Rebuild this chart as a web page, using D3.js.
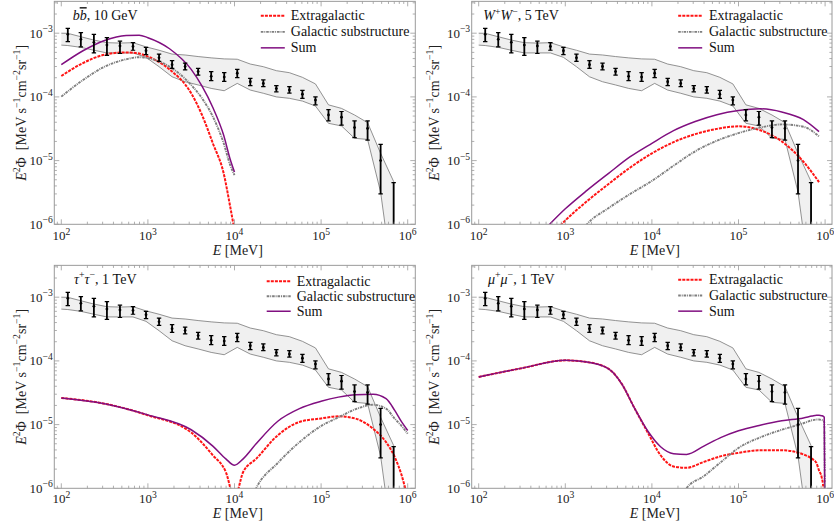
<!DOCTYPE html>
<html><head><meta charset="utf-8">
<script src="https://cdn.jsdelivr.net/npm/d3@7"></script>
<style>
body{margin:0;background:#fff;}
svg{display:block;font-family:"Liberation Serif","Times New Roman",serif;}
</style></head><body>
<svg id="c" width="834" height="525"></svg>
<script>
// ---------- data: Fermi-LAT points (MeV, MeV s^-1 cm^-2 sr^-1) ----------
const dataE  = [118.9,168.2,237.9,336.4,475.8,672.8,951.3,1345,1902,2690,3804,5380,7607,10760,15216,21517,30428,43030,60850,86050,121690,172090,243360,344150,486690,688250];
const dataY  = [9.6e-4,8.0e-4,7.2e-4,6.5e-4,6.3e-4,6.2e-4,5.3e-4,4.1e-4,3.2e-4,3.0e-4,2.5e-4,2.1e-4,2.05e-4,2.35e-4,1.73e-4,1.63e-4,1.35e-4,1.28e-4,1.1e-4,8.9e-5,5.2e-5,4.8e-5,3.3e-5,3.2e-5,1.0e-5,9e-7];
const dataHi = [1.19e-3,1.02e-3,9.6e-4,8.5e-4,7.5e-4,7.1e-4,6.0e-4,4.7e-4,3.7e-4,3.4e-4,2.8e-4,2.5e-4,2.4e-4,2.7e-4,1.95e-4,1.85e-4,1.5e-4,1.45e-4,1.27e-4,1.0e-4,6.3e-5,5.9e-5,4.2e-5,4.2e-5,1.8e-5,4.5e-6];
const dataLo = [7.4e-4,6.1e-4,4.9e-4,4.5e-4,4.8e-4,5.4e-4,4.6e-4,3.6e-4,2.8e-4,2.65e-4,2.2e-4,1.8e-4,1.75e-4,2.0e-4,1.5e-4,1.45e-4,1.2e-4,1.15e-4,9.5e-5,7.5e-5,4.2e-5,3.6e-5,2.3e-5,2.1e-5,3.0e-6,1e-8];
// foreground systematic band
const bandE  = [100,118.9,168.2,237.9,336.4,475.8,672.8,951.3,1345,1902,2690,3804,5380,7607,10760,15216,21517,30428,43030,60850,86050,121690,172090,243360,344150,486690,688250];
const bandUp = [1.0e-3,9.95e-4,8.8e-4,7.8e-4,7.1e-4,7.0e-4,7.1e-4,6.1e-4,5.4e-4,4.7e-4,4.55e-4,4.3e-4,4.1e-4,3.95e-4,3.9e-4,3.28e-4,2.98e-4,2.58e-4,2.4e-4,2.03e-4,1.6e-4,7.5e-5,6.6e-5,5.2e-5,3.94e-5,1.3e-5,4.7e-6];
const bandLo = [6.5e-4,6.4e-4,6.0e-4,5.4e-4,4.9e-4,4.9e-4,4.9e-4,4.18e-4,2.98e-4,2.07e-4,1.73e-4,1.54e-4,1.36e-4,1.25e-4,1.63e-4,1.28e-4,1.14e-4,1.0e-4,9.5e-5,8.6e-5,7.2e-5,3.85e-5,3.5e-5,2.24e-5,2.15e-5,3.2e-6,1e-7];

// ---------- model curves ----------
// b bbar, 10 GeV
const bbE     = [100,178,316,562,794,1000,1778,3162,4217,5623,7499,8913,10000];
const bbExtra = [2.13e-4,3.4e-4,4.6e-4,5.0e-4,4.8e-4,4.3e-4,2.7e-4,1.14e-4,5.2e-5,1.87e-5,6.3e-6,1.9e-6,8e-7];
const bbGal   = [1.01e-4,1.84e-4,2.98e-4,3.9e-4,4.2e-4,4.05e-4,2.98e-4,1.54e-4,9.5e-5,4.9e-5,1.87e-5,8.5e-6,5.9e-6];
const bbSum   = [3.2e-4,5.3e-4,7.7e-4,9.2e-4,9.3e-4,8.5e-4,5.7e-4,2.7e-4,1.47e-4,6.8e-5,2.5e-5,1.05e-5,6.6e-6];
// W+W-, 5 TeV
const wwE     = [562,1000,1778,3162,5623,10000,17783,31623,56234,100000,177828,316228,562341,851138];
const wwExtra = [5e-7,1.15e-6,2.3e-6,4.3e-6,7.8e-6,1.3e-5,1.95e-5,2.6e-5,3.15e-5,3.45e-5,3.0e-5,2.0e-5,9.6e-6,4.6e-6];
const wwGal   = [1e-7,3e-7,1.0e-6,1.8e-6,3.0e-6,4.8e-6,8.3e-6,1.4e-5,2.05e-5,2.7e-5,3.3e-5,3.7e-5,3.4e-5,2.4e-5];
const wwSum   = [8e-7,1.75e-6,3.4e-6,6.3e-6,1.15e-5,1.87e-5,2.95e-5,4.1e-5,5.25e-5,6.1e-5,6.5e-5,5.8e-5,4.4e-5,2.85e-5];
// tau+tau-, 1 TeV
const ttE     = [100,316,1000,3162,5623,7943,10000,12589,17783,31623,56234,100000,158489,251189,398107,562341,707946,851138,1000000];
const ttExtra = [2.62e-5,2.13e-5,1.4e-5,7.5e-6,3.3e-6,1.8e-6,7e-7,1.8e-6,2.9e-6,6.8e-6,1.1e-5,1.25e-5,1.35e-5,1.24e-5,8.6e-6,5.3e-6,3.1e-6,1.6e-6,7e-7];
const ttGal   = [1e-8,1e-8,1e-8,1e-8,1e-8,1e-8,1e-8,3e-7,1.0e-6,2.5e-6,5.3e-6,9.5e-6,1.3e-5,1.75e-5,2.05e-5,1.78e-5,1.24e-5,9.5e-6,7.2e-6];
const ttSum   = [2.62e-5,2.13e-5,1.42e-5,8.3e-6,4.6e-6,2.9e-6,2.3e-6,2.9e-6,5.0e-6,1.13e-5,1.78e-5,2.32e-5,2.7e-5,2.95e-5,3.0e-5,2.55e-5,1.67e-5,1.1e-5,8.1e-6];
// mu+mu-, 1 TeV
const mmE     = [100,316,1000,1778,3162,4467,6310,8913,12589,17783,25119,39811,63096,100000,177828,316228,562341,707946,794328,851138,912011,954993,977237,1000000];
const mmExtra = [5.6e-5,7.7e-5,1.02e-4,9.6e-5,7.5e-5,4.4e-5,1.8e-5,7.6e-6,3.3e-6,2.2e-6,2.1e-6,2.6e-6,3.2e-6,3.6e-6,3.95e-6,3.95e-6,3.4e-6,2.9e-6,2.5e-6,1.9e-6,1.5e-6,1.0e-6,5e-7,1e-7];
const mmGal   = [1e-8,1e-8,1e-8,1e-8,1e-8,1e-8,1e-8,1e-8,1e-8,3e-7,1.0e-6,1.55e-6,2.6e-6,4.3e-6,6.3e-6,8.3e-6,1.05e-5,1.17e-5,1.2e-5,1.2e-5,1.18e-5,1.15e-5,1.1e-5,1e-7];
const mmSum   = [5.6e-5,7.7e-5,1.02e-4,9.6e-5,7.5e-5,4.4e-5,1.8e-5,8.0e-6,4.5e-6,3.5e-6,3.4e-6,4.6e-6,6.3e-6,8.0e-6,9.8e-6,1.15e-5,1.27e-5,1.36e-5,1.4e-5,1.4e-5,1.38e-5,1.35e-5,1.3e-5,1e-7];

// ---------- labels ----------
const xTickVals = [1e2,1e3,1e4,1e5,1e6];
const xTickExp  = ["2","3","4","5","6"];
const yTickVals = [1e-6,1e-5,1e-4,1e-3];
const yTickExp  = ["\u22126","\u22125","\u22124","\u22123"];
const legendLabels = ["Extragalactic","Galactic substructure","Sum"];
const titleParts = [
  [{t:"b",it:1},{t:"b",it:1,over:1},{t:", 10 GeV"}],
  [{t:"W",it:1},{t:"+",sup:1},{t:"W",it:1},{t:"\u2212",sup:1},{t:", 5 TeV"}],
  [{t:"\u03c4",it:1},{t:"+",sup:1},{t:"\u03c4",it:1},{t:"\u2212",sup:1},{t:", 1 TeV"}],
  [{t:"\u03bc",it:1},{t:"+",sup:1},{t:"\u03bc",it:1},{t:"\u2212",sup:1},{t:", 1 TeV"}]
];
const yLabelParts = [{t:"E",it:1},{t:"2",sup:1},{t:"\u03a6\u00a0\u00a0[MeV s"},{t:"\u22121",sup:1},{t:"cm"},{t:"\u22122",sup:1},{t:"sr"},{t:"\u22121",sup:1},{t:"]"}];
const xLabelParts = [{t:"E",it:1},{t:" [MeV]"}];

// ---------- layout ----------
const panels = [
  {l:54.3, r:415.3, b:224.3, E:bbE, ex:bbExtra, gal:bbGal, sum:bbSum, legLine:206.5, legText:236.5, legRows:[14.3,30.5,46.5], titleX:72.7, titleY:18.8, ylabX:26, tickY:15.5, xlabY:30.5},
  {l:471.7,r:832,   b:224.3, E:wwE, ex:wwExtra, gal:wwGal, sum:wwSum, legLine:206.5, legText:237.3, legRows:[14.3,30.5,46.5], titleX:483.3, titleY:18.8, ylabX:439, tickY:15.5, xlabY:30.5},
  {l:54.3, r:415.3, b:488.3, E:ttE, ex:ttExtra, gal:ttGal, sum:ttSum, legLine:212.4, legText:242.4, legRows:[15.9,30.9,45.9], titleX:74, titleY:18.3, ylabX:26, tickY:14.8, xlabY:29.2},
  {l:471.7,r:832,   b:488.3, E:mmE, ex:mmExtra, gal:mmGal, sum:mmSum, legLine:206.5, legText:237.3, legRows:[14.5,30.2,45.8], titleX:488, titleY:18.3, ylabX:439, tickY:14.8, xlabY:29.2}
];
const decX = 86.6, decY = 63.7;

function rich(sel, parts, size, supScale){
  const sc = supScale || 0.7;
  let shift = 0;
  parts.forEach(p=>{
    const target = p.sup ? -0.4*size : 0;
    const ts = sel.append("tspan").text(p.t)
      .attr("dy", (target - shift).toFixed(2))
      .style("font-size", (p.sup ? size*sc : size) + "px");
    if (p.it) ts.style("font-style","italic");
    if (p.over) ts.style("text-decoration","overline");
    shift = target;
  });
}

const svg = d3.select("#c");
const frameCol = "#9a9a9a";
const lineStyles = [
  {stroke:"#ff1414", w:2.0, dash:"3,1.1"},
  {stroke:"#7f7f7f", w:1.9, dash:"2.6,0.9,1,0.9"},
  {stroke:"#800f80", w:1.5, dash:null}
];

panels.forEach((P, pi)=>{
  const top = P.b - 3.5*decY;
  const x = d3.scaleLog().domain([Math.pow(10, 2 - (7/decX)), Math.pow(10, 2 + (P.r - P.l - 7)/decX)]).range([P.l, P.r]);
  const y = d3.scaleLog().domain([1e-6, Math.pow(10,-2.5)]).range([P.b, top]);
  const g = svg.append("g");
  const cid = "clip"+pi;
  svg.append("clipPath").attr("id",cid).append("rect")
    .attr("x",P.l).attr("y",top).attr("width",P.r-P.l).attr("height",P.b-top);
  const plot = g.append("g").attr("clip-path","url(#"+cid+")");

  // band
  const bandPts = bandE.map((e,i)=>({e, u:bandUp[i], lo:bandLo[i]}));
  plot.append("path").datum(bandPts)
    .attr("d", d3.area().x(d=>x(d.e)).y0(d=>y(d.lo)).y1(d=>y(d.u)))
    .attr("fill","#f0f0f0").attr("stroke","none");
  [ "u","lo" ].forEach(k=>{
    plot.append("path").datum(bandPts)
      .attr("d", d3.line().x(d=>x(d.e)).y(d=>y(d[k])))
      .attr("fill","none").attr("stroke","#777").attr("stroke-width",0.8);
  });
  const lastB = bandPts[bandPts.length-1];
  plot.append("line").attr("x1",x(lastB.e)).attr("x2",x(lastB.e)).attr("y1",y(lastB.u)).attr("y2",y(lastB.lo))
    .attr("stroke","#777").attr("stroke-width",0.8);

  // curves
  const line = d3.line().curve(d3.curveMonotoneX).x(d=>x(d[0])).y(d=>y(d[1]));
  [P.ex, P.gal, P.sum].forEach((vals,si)=>{
    const s = lineStyles[si];
    const pts = P.E.map((e,i)=>[e, vals[i]]);
    const p = plot.append("path").datum(pts).attr("d", line)
      .attr("fill","none").attr("stroke", s.stroke).attr("stroke-width", s.w);
    if (s.dash) p.attr("stroke-dasharray", s.dash);
  });

  // data error bars
  const bars = plot.append("g").attr("stroke","#000");
  dataE.forEach((e,i)=>{
    const cx = x(e);
    bars.append("line").attr("x1",cx).attr("x2",cx).attr("y1",y(dataHi[i])).attr("y2",y(dataLo[i])).attr("stroke-width",1.8);
    bars.append("line").attr("x1",cx-2.2).attr("x2",cx+2.2).attr("y1",y(dataHi[i])).attr("y2",y(dataHi[i])).attr("stroke-width",1.2);
    bars.append("line").attr("x1",cx-2.2).attr("x2",cx+2.2).attr("y1",y(dataLo[i])).attr("y2",y(dataLo[i])).attr("stroke-width",1.2);
    bars.append("circle").attr("cx",cx).attr("cy",y(dataY[i])).attr("r",1.4).attr("fill","#000").attr("stroke","none");
  });

  // frame
  g.append("rect").attr("x",P.l).attr("y",top).attr("width",P.r-P.l).attr("height",P.b-top)
    .attr("fill","none").attr("stroke",frameCol).attr("stroke-width",1);
  const tk = g.append("g").attr("stroke",frameCol).attr("stroke-width",0.8);
  x.ticks().forEach(v=>{
    const major = Math.abs(Math.log10(v) - Math.round(Math.log10(v))) < 1e-6;
    const len = major ? 5 : 2.6;
    const px = x(v);
    tk.append("line").attr("x1",px).attr("x2",px).attr("y1",P.b).attr("y2",P.b-len);
    tk.append("line").attr("x1",px).attr("x2",px).attr("y1",top).attr("y2",top+len);
  });
  y.ticks().forEach(v=>{
    const major = Math.abs(Math.log10(v) - Math.round(Math.log10(v))) < 1e-6;
    const len = major ? 5 : 2.6;
    const py = y(v);
    tk.append("line").attr("y1",py).attr("y2",py).attr("x1",P.l).attr("x2",P.l+len);
    tk.append("line").attr("y1",py).attr("y2",py).attr("x1",P.r).attr("x2",P.r-len);
  });
  // tick labels
  xTickVals.forEach((v,i)=>{
    const t = g.append("text").attr("x", x(v)).attr("y", P.b+P.tickY).attr("text-anchor","middle").attr("fill","#222");
    rich(t, [{t:"10"},{t:xTickExp[i],sup:1}], 13, 0.74);
  });
  yTickVals.forEach((v,i)=>{
    const t = g.append("text").attr("x", P.l-1.5).attr("y", y(v)+4.3).attr("text-anchor","end").attr("fill","#222");
    rich(t, [{t:"10"},{t:yTickExp[i],sup:1}], 13, 0.74);
  });
  // axis labels
  const xl = g.append("text").attr("x",(P.l+P.r)/2+3).attr("y",P.b+P.xlabY).attr("text-anchor","middle").attr("fill","#222");
  rich(xl, xLabelParts, 14);
  const yl = g.append("text").attr("transform","translate("+P.ylabX+","+((top+P.b)/2)+") rotate(-90)")
    .attr("text-anchor","middle").attr("fill","#222");
  rich(yl, yLabelParts, 14);
  // title
  const tt = g.append("text").attr("x",P.titleX).attr("y",top+P.titleY).attr("fill","#111");
  rich(tt, titleParts[pi], 14);
  // legend
  legendLabels.forEach((lab,i)=>{
    const yy = top + P.legRows[i];
    const s = lineStyles[i];
    const ln = g.append("line").attr("x1",P.l+P.legLine).attr("x2",P.l+P.legLine+24).attr("y1",yy).attr("y2",yy)
      .attr("stroke",s.stroke).attr("stroke-width",s.w);
    if (s.dash) ln.attr("stroke-dasharray",s.dash);
    g.append("text").attr("x",P.l+P.legText).attr("y",yy+4.5).attr("fill","#111").style("font-size","14px").text(lab);
  });
});
</script>
</body></html>
